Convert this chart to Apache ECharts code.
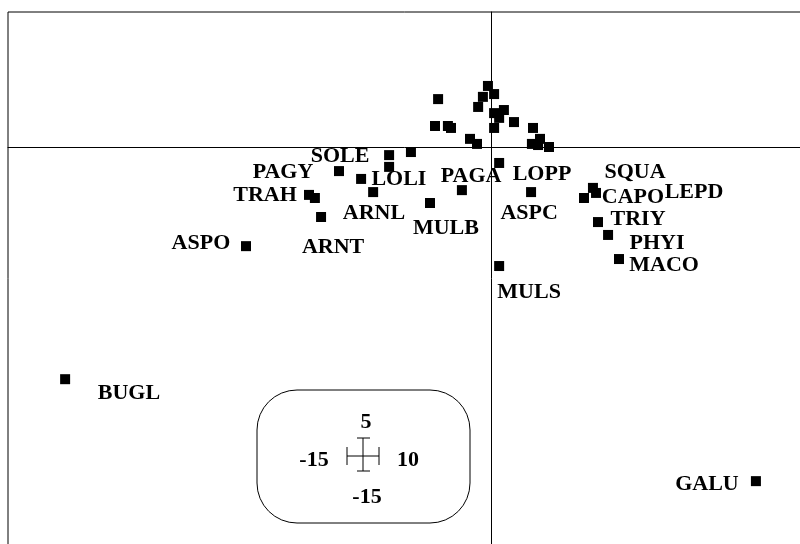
<!DOCTYPE html>
<html>
<head>
<meta charset="utf-8">
<title>Species ordination</title>
<script src="https://cdn.jsdelivr.net/npm/echarts@6/dist/echarts.min.js"></script>
<style>
  html, body { margin: 0; padding: 0; background: #fff; }
  #chart { width: 800px; height: 544px; }
</style>
</head>
<body>
<div id="chart"></div>
<script>
// Species scores on the first two axes (x = axis 1, y = axis 2)
const speciesX = [-15.21, 9.46, -8.75, -6.50, -6.29, -6.07, -5.43, -4.64, -4.21, -3.64, -3.64, -2.86,
  -2.18, -1.04, 0.29, 1.43, 3.32, 3.64, 3.75, 3.82, 4.18, 4.57, 0.29,
  -1.89, -0.11, -0.29, 0.11, -0.46, 0.11, 0.46, 0.29, 0.82, -2.00, -1.54, -1.43, 0.11,
  -0.75, -0.50, 1.50, 1.75, 1.46, 1.68, 2.07];
const speciesY = [-8.29, -11.93, -3.54, -1.71, -1.82, -2.50, -0.86, -1.14, -1.61, -0.29, -0.71, -0.18,
  -2.00, -1.54, -0.57, -1.61, -1.82, -1.46, -1.64, -2.68, -3.14, -4.00, -4.25,
  1.71, 2.18, 1.79, 1.89, 1.43, 1.21, 1.32, 1.04, 0.89, 0.75, 0.75, 0.68, 0.68,
  0.29, 0.11, 0.68, 0.29, 0.11, 0.07, 0.00];

// Species codes and where each code is written
const labelNames = ['SOLE', 'PAGY', 'LOLI', 'PAGA', 'LOPP', 'SQUA', 'CAPO', 'LEPD', 'TRAH', 'ARNL',
  'ASPC', 'TRIY', 'MULB', 'ASPO', 'ARNT', 'PHYI', 'MACO', 'MULS', 'BUGL', 'GALU'];
const labelX = [-5.39, -7.43, -3.29, -0.71, 1.82, 5.14, 5.07, 7.25, -8.07, -4.18,
  1.36, 5.25, -1.61, -10.36, -5.64, 5.93, 6.18, 1.36, -12.93, 7.71];
const labelY = [-0.32, -0.89, -1.14, -1.04, -0.96, -0.89, -1.79, -1.61, -1.71, -2.36,
  -2.36, -2.57, -2.89, -3.43, -3.57, -3.43, -4.21, -5.18, -8.79, -12.04];

// Axis extents shown in the scale box: top, left, right, bottom
const scaleTop = '5';
const scaleLeft = '-15';
const scaleRight = '10';
const scaleBottom = '-15';

const FONT = 'Liberation Serif';
const FONT_SIZE = 22;

const pointData = speciesX.map((x, i) => [x, speciesY[i]]);
const labelData = labelNames.map((n, i) => ({ name: n, value: [labelX[i], labelY[i]] }));

const chart = echarts.init(document.getElementById('chart'), null, { renderer: 'canvas' });

const txt = (text, x, y) => ({
  type: 'text', x: x, y: y,
  style: { text: text, fill: '#000', font: 'bold ' + FONT_SIZE + 'px "' + FONT + '"', textAlign: 'center', textVerticalAlign: 'middle' }
});
const seg = (x1, y1, x2, y2) => ({
  type: 'line', shape: { x1: x1, y1: y1, x2: x2, y2: y2 },
  style: { stroke: '#000', lineWidth: 1 }
});

chart.setOption({
  animation: false,
  backgroundColor: '#fff',
  grid: {
    left: 8, top: 12, width: 800, height: 540,
    outerBoundsMode: 'none', containLabel: false,
    show: true, borderColor: '#000', borderWidth: 1, backgroundColor: 'transparent'
  },
  xAxis: {
    type: 'value', min: -17.25, max: 11.32,
    axisLine: { show: true, onZero: true, lineStyle: { color: '#000', width: 1 } },
    axisTick: { show: false }, axisLabel: { show: false }, splitLine: { show: false }
  },
  yAxis: {
    type: 'value', min: -14.46, max: 4.82,
    axisLine: { show: true, onZero: true, lineStyle: { color: '#000', width: 1 } },
    axisTick: { show: false }, axisLabel: { show: false }, splitLine: { show: false }
  },
  series: [
    {
      type: 'scatter', data: pointData, symbol: 'rect', symbolSize: 10,
      itemStyle: { color: '#000', opacity: 1 }, silent: true, z: 3
    },
    {
      type: 'scatter', data: labelData, symbol: 'rect', symbolSize: 1,
      itemStyle: { color: 'rgba(0,0,0,0)', opacity: 1 }, silent: true, z: 4,
      label: {
        show: true, position: 'inside', formatter: '{b}', opacity: 1,
        color: '#000', fontFamily: FONT, fontWeight: 'bold', fontSize: FONT_SIZE
      }
    }
  ],
  graphic: [
    { type: 'rect', shape: { x: 257, y: 390, width: 213, height: 133, r: 40 },
      style: { fill: 'none', stroke: '#000', lineWidth: 1 } },
    txt(scaleTop, 366, 422),
    txt(scaleLeft, 314, 460),
    txt(scaleRight, 408, 460),
    txt(scaleBottom, 367, 497),
    seg(347, 456, 379, 456),
    seg(347, 447, 347, 465),
    seg(379, 447, 379, 465),
    seg(363, 438, 363, 471),
    seg(357, 438, 370, 438),
    seg(357, 471, 370, 471)
  ]
});
</script>
</body>
</html>
